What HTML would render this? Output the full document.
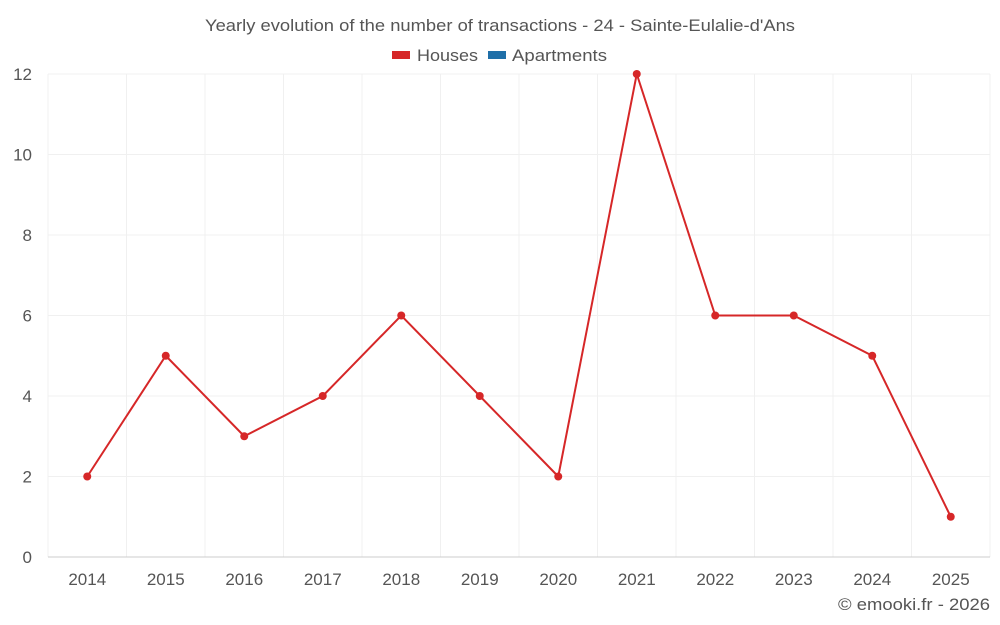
<!DOCTYPE html>
<html><head><meta charset="utf-8"><style>
html,body{margin:0;padding:0;background:#fff;}
svg{display:block;font-family:"Liberation Sans",sans-serif;}
</style></head><body>
<svg id="chart" width="1000" height="625">
<text x="205" y="31" font-size="17" fill="#555" textLength="590" lengthAdjust="spacingAndGlyphs">Yearly evolution of the number of transactions - 24 - Sainte-Eulalie-d'Ans</text>
<g><rect x="392" y="51" width="18" height="8" fill="#d62728"/><text x="417" y="61" font-size="17" fill="#555" textLength="61" lengthAdjust="spacingAndGlyphs">Houses</text></g>
<g><rect x="488" y="51" width="18" height="8" fill="#1f6fa8"/><text x="512" y="61" font-size="17" fill="#555" textLength="95" lengthAdjust="spacingAndGlyphs">Apartments</text></g>
<g id="grid"></g><g id="axes"></g><g id="series"></g>
<text x="838" y="610" font-size="17" fill="#555" textLength="152" lengthAdjust="spacingAndGlyphs">© emooki.fr - 2026</text>
</svg>
<script>
const categories=["2014","2015","2016","2017","2018","2019","2020","2021","2022","2023","2024","2025"];
const houses=[2,5,3,4,6,4,2,12,6,6,5,1];
const yTicks=[0,2,4,6,8,10,12];
const L=48,R=990,T=74,B=557,yMax=12;
const bw=(R-L)/categories.length;
const xs=i=>L+bw*(i+0.5);
const ys=v=>B-(v/yMax)*(B-T);
const NS="http://www.w3.org/2000/svg";
function mk(p,t,a){const e=document.createElementNS(NS,t);for(const k in a)e.setAttribute(k,a[k]);p.appendChild(e);return e;}
const g=document.getElementById('grid'),ax=document.getElementById('axes'),s=document.getElementById('series');
for(let i=0;i<=categories.length;i++){const x=L+bw*i;const l=mk(g,'line',{x1:x,x2:x,y1:T,y2:B,stroke:'#f0f0f0'});

}
yTicks.forEach(v=>{const l=mk(g,'line',{x1:L,x2:R,y1:ys(v),y2:ys(v),stroke:v===0?'#ccc':'#f0f0f0'});


const t=mk(ax,'text',{x:32,y:ys(v)+6,'text-anchor':'end','font-size':17,fill:'#555'});t.textContent=v;

});
categories.forEach((c,i)=>{const t=mk(ax,'text',{x:xs(i),y:585,'text-anchor':'middle','font-size':17,fill:'#555'});t.textContent=c;

});
const pl=mk(s,'polyline',{points:houses.map((v,i)=>xs(i)+','+ys(v)).join(' '),fill:'none',stroke:'#d62728','stroke-width':2});


houses.forEach((v,i)=>{const c=mk(s,'circle',{cx:xs(i),cy:ys(v),r:4,fill:'#d62728'});

});
</script>
</body></html>
